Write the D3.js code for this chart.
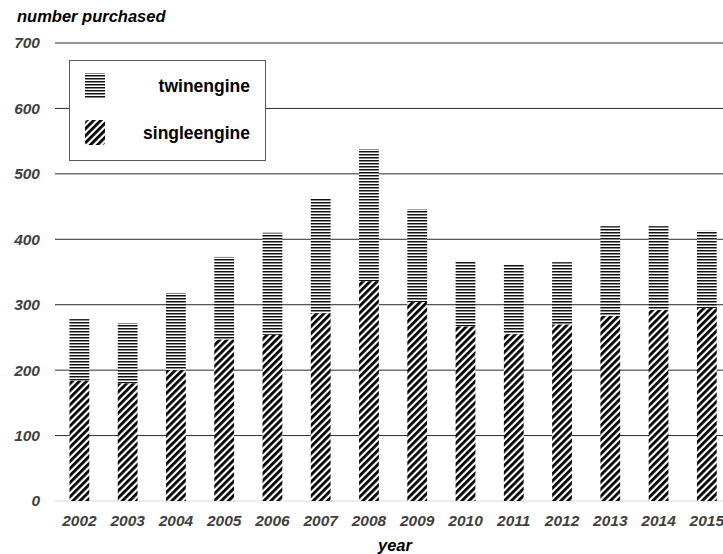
<!DOCTYPE html>
<html>
<head>
<meta charset="utf-8">
<script src="https://cdn.jsdelivr.net/npm/d3@7"></script>
<style>
  body { margin: 0; background: #fff; }
  text { font-family: "Liberation Sans", "DejaVu Sans", sans-serif; }
</style>
</head>
<body>
<div id="chart"></div>
<script>
// chart data
var years = ["2002", "2003", "2004", "2005", "2006", "2007", "2008",
             "2009", "2010", "2011", "2012", "2013", "2014", "2015"];
var singleengine = [184, 180, 200, 247, 254, 287, 336, 304, 267, 255, 270, 283, 292, 295];
var twinengine = [94, 92, 118, 126, 156, 176, 202, 142, 100, 106, 95, 137, 128, 118];
var yTicks = [0, 100, 200, 300, 400, 500, 600, 700];
var seriesNames = ["singleengine", "twinengine"];

var svgWidth = 723;
var svgHeight = 554;

var margin = { top: 43, right: -8, bottom: 53, left: 55 };
var width = svgWidth - margin.left - margin.right;
var height = svgHeight - margin.top - margin.bottom;

var svg = d3.select("#chart")
  .append("svg")
  .attr("width", svgWidth)
  .attr("height", svgHeight);

// fill patterns
var defs = svg.append("defs");

var horiz = defs.append("pattern")
  .attr("id", "pat-twin")
  .attr("patternUnits", "userSpaceOnUse")
  .attr("width", 4)
  .attr("height", 3);
horiz.append("rect").attr("width", 4).attr("height", 3).attr("fill", "#fff");
horiz.append("rect").attr("y", 0).attr("width", 4).attr("height", 1).attr("fill", "#111");
horiz.append("rect").attr("y", 1).attr("width", 4).attr("height", 1).attr("fill", "#8a8a8a");

var diag = defs.append("pattern")
  .attr("id", "pat-single")
  .attr("patternUnits", "userSpaceOnUse")
  .attr("width", 5)
  .attr("height", 5)
  .attr("patternTransform", "rotate(45)");
diag.append("rect").attr("width", 5).attr("height", 5).attr("fill", "#fff");
diag.append("rect").attr("width", 2.8).attr("height", 5).attr("fill", "#000");

var chartGroup = svg.append("g")
  .attr("transform", `translate(${margin.left}, ${margin.top})`);

// scales
var xBandScale = d3.scaleBand()
  .domain(years)
  .range([0, 14 * 48.3])
  .paddingInner(0.59)
  .paddingOuter(0.3);

var yLinearScale = d3.scaleLinear()
  .domain([0, 700])
  .range([height + 0, 0]);

// gridlines
chartGroup.selectAll(".grid")
  .data(yTicks)
  .enter()
  .append("line")
  .attr("x1", 0)
  .attr("x2", width + 20)
  .attr("y1", d => yLinearScale(d))
  .attr("y2", d => yLinearScale(d))
  .attr("stroke", d => d === 0 ? "#d9d9d9" : "#2a2a2a")
  .attr("stroke-width", 1);

// y axis labels
var leftAxis = d3.axisLeft(yLinearScale).tickValues(yTicks).tickSize(0).tickPadding(15);
var yAxisG = chartGroup.append("g").call(leftAxis);
yAxisG.select(".domain").remove();
yAxisG.selectAll("text")
  .attr("font-family", "'Liberation Sans', sans-serif")
  .attr("font-size", "15.5px")
  .attr("font-weight", "bold")
  .attr("font-style", "italic")
  .attr("fill", "#404040");

// x axis labels
var bottomAxis = d3.axisBottom(xBandScale).tickSize(0).tickPadding(14);
var xAxisG = chartGroup.append("g")
  .attr("transform", `translate(0, ${height})`)
  .call(bottomAxis);
xAxisG.select(".domain").remove();
xAxisG.selectAll("text")
  .attr("font-family", "'Liberation Sans', sans-serif")
  .attr("font-size", "15.5px")
  .attr("font-weight", "bold")
  .attr("font-style", "italic")
  .attr("fill", "#404040");

// stacked bars
var rows = years.map((y, i) => ({ year: y, singleengine: singleengine[i], twinengine: twinengine[i] }));
var stacked = d3.stack().keys(seriesNames)(rows);

chartGroup.selectAll(".series")
  .data(stacked)
  .enter()
  .append("g")
  .attr("fill", d => d.key === "singleengine" ? "url(#pat-single)" : "url(#pat-twin)")
  .selectAll("rect")
  .data(d => d)
  .enter()
  .append("rect")
  .attr("x", d => xBandScale(d.data.year))
  .attr("width", xBandScale.bandwidth())
  .attr("y", d => yLinearScale(d[1]))
  .attr("height", d => yLinearScale(d[0]) - yLinearScale(d[1]));

// axis titles
svg.append("text")
  .attr("x", 17)
  .attr("y", 22)
  .attr("font-size", "16.5px")
  .attr("font-weight", "bold")
  .attr("font-style", "italic")
  .attr("fill", "#000")
  .text("number purchased");

svg.append("text")
  .attr("x", 395)
  .attr("y", 551)
  .attr("text-anchor", "middle")
  .attr("font-size", "16.5px")
  .attr("font-weight", "bold")
  .attr("font-style", "italic")
  .attr("fill", "#000")
  .text("year");

// legend
var legend = svg.append("g");
legend.append("rect")
  .attr("x", 69.5)
  .attr("y", 60.5)
  .attr("width", 196)
  .attr("height", 100)
  .attr("fill", "#fff")
  .attr("stroke", "#595959")
  .attr("stroke-width", 1);

var legendItems = [
  { name: "twinengine", fill: "url(#pat-twin)", y: 73 },
  { name: "singleengine", fill: "url(#pat-single)", y: 120 }
];
legendItems.forEach(function(item) {
  legend.append("rect")
    .attr("x", 85)
    .attr("y", item.y)
    .attr("width", 20)
    .attr("height", 25)
    .attr("rx", item.name === "singleengine" ? 3 : 0)
    .attr("fill", item.fill);
  legend.append("text")
    .attr("x", 250)
    .attr("y", item.y + 19)
    .attr("text-anchor", "end")
    .attr("font-size", "17.5px")
    .attr("font-weight", "bold")
    .attr("fill", "#000")
    .text(item.name);
});
</script>
</body>
</html>
